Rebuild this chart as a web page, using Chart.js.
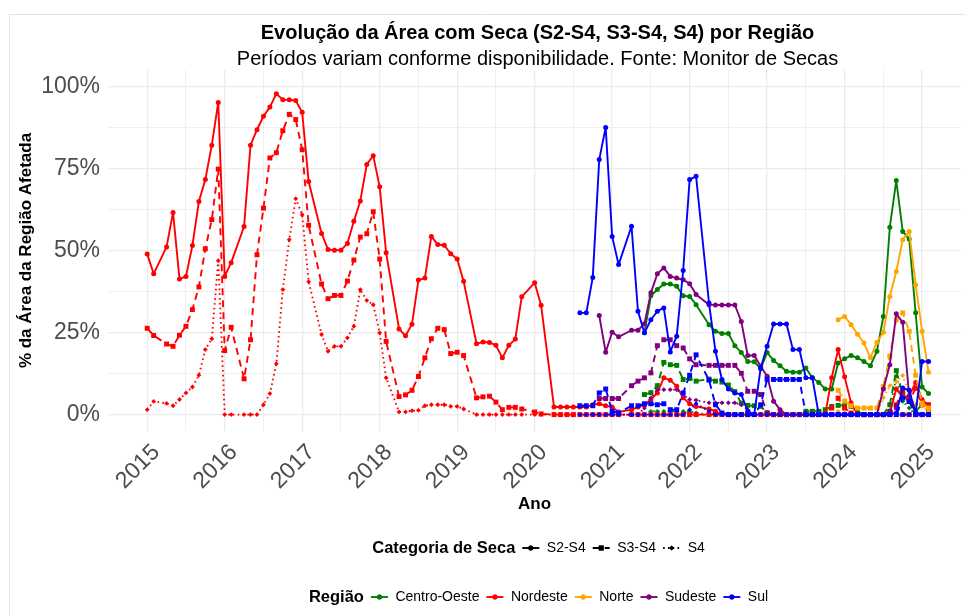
<!DOCTYPE html>
<html lang="pt-BR">
<head>
<meta charset="UTF-8">
<title>Evolução da Área com Seca por Região</title>
<script src="https://cdn.jsdelivr.net/npm/chart.js@4.4.1/dist/chart.umd.min.js"></script>
<style>
  html, body { margin: 0; padding: 0; background: #fff; }
  canvas { display: block; }
</style>
</head>
<body>
<canvas id="chart" width="965" height="615"></canvas>
<script>
// % of each region's area in drought, one value per month.
// N = month missing in the source series (March up to 2022, Dec 2019)
const N = null;

const titulo = 'Evolução da Área com Seca (S2-S4, S3-S4, S4) por Região';
const subtitulo = 'Períodos variam conforme disponibilidade. Fonte: Monitor de Secas';

const regioes = ['Centro-Oeste', 'Nordeste', 'Norte', 'Sudeste', 'Sul'];
const categorias = ['S2-S4', 'S3-S4', 'S4'];
const anos = [2015, 2016, 2017, 2018, 2019, 2020, 2021, 2022, 2023, 2024, 2025];
const yTicks = [0, 25, 50, 75, 100];

// first month of each region's series
const inicioCentroOeste = '2021-06';
const inicioNordeste = '2015-01';
const inicioNorte = '2023-12';
const inicioSudeste = '2020-11';
const inicioSul = '2020-08';

const nordesteS2 = [
  48.9, 42.9, N, 51.1, 61.6, 41.3, 42.1, 51.5, 64.9, 71.6, 82.1, 95.1,
  42.1, 46.3, N, 57.3, 82.1, 86.8, 90.9, 93.7, 97.8, 95.9, 95.9, 95.7,
  92.1, 71.0, N, 55.2, 50.3, 50.1, 50.1, 52.1, 58.9, 65.1, 76.2, 78.9,
  69.4, 49.3, N, 26.1, 24.0, 27.5, 41.0, 41.6, 54.3, 51.8, 51.6, 49.0,
  47.4, 40.6, N, 21.6, 22.1, 22.0, 21.1, 17.3, 21.1, 23.0, 35.9, N,
  40.2, 33.3, N, 2.3, 2.3, 2.3, 2.3, 2.3, 2.3, 3.0, 3.3, 2.7,
  2.3, 0.8, N, 1.5, 2.3, 3.0, 4.6, 6.6, 11.2, 10.5, 8.6, 5.1,
  3.3, 2.5, N, 1.7, 1.0, 0, 0, 0, 0, 0, 0, 0,
  0, 0, 0, 0, 0, 0, 0, 0, 0, 0, 11.2, 19.8,
  11.5, 3.6, 0, 0, 0, 0, 0, 0.5, 7.8, 5.3, 5.6, 9.8,
  4.6, 2.7
];
const nordesteS3 = [
  26.3, 24.1, N, 21.5, 20.8, 24.2, 26.9, 32.0, 38.9, 50.5, 59.4, 74.8,
  19.5, 26.6, N, 10.9, 22.8, 48.7, 62.9, 78.2, 79.8, 86.5, 91.5, 89.9,
  80.7, 57.7, N, 39.8, 35.3, 36.3, 36.3, 40.7, 47.1, 54.1, 55.1, 61.8,
  47.4, 22.3, N, 5.5, 6.0, 7.4, 11.6, 17.3, 23.1, 26.3, 25.9, 18.6,
  19.0, 18.0, N, 5.1, 5.4, 5.6, 3.8, 1.5, 2.2, 2.2, 1.7, N,
  0.8, 0.2, N, 0, 0, 0, 0, 0, 0, 0, 0, 0,
  0, 0, N, 0, 0, 0, 0, 0, 0, 0, 0, 0,
  0, 0, N, 0, 0, 0, 0, 0, 0, 0, 0, 0,
  0, 0, 0, 0, 0, 0, 0, 0, 0, 0, 2.0, 5.0,
  2.0, 0.5, 0, 0, 0, 0, 0, 0, 3.0, 7.0, 4.0, 8.0,
  3.0, 3.0
];
const nordesteS4 = [
  1.5, 4.0, N, 3.4, 2.7, 4.6, 6.6, 8.4, 12.0, 19.8, 23.1, 46.9,
  0, 0, N, 0, 0, 0, 3.0, 6.4, 15.5, 38.1, 53.3, 65.8,
  60.9, 40.5, N, 24.4, 19.3, 20.8, 20.8, 23.4, 26.9, 38.1, 34.8, 33.5,
  24.9, 11.2, N, 0.8, 0.8, 1.2, 1.3, 2.7, 3.0, 3.0, 3.0, 2.5,
  2.5, 1.7, N, 0, 0, 0, 0, 0, 0, 0, 0, N,
  0, 0, N, 0, 0, 0, 0, 0, 0, 0, 0, 0,
  0, 0, N, 0, 0, 0, 0, 0, 0, 0, 0, 0,
  0, 0, N, 0, 0, 0, 0, 0, 0, 0, 0, 0,
  0, 0, 0, 0, 0, 0, 0, 0, 0, 0, 0, 0,
  0, 0, 0, 0, 0, 0, 0, 0, 0, 0, 0, 0,
  0, 0
];

const sulS2 = [
  31.0, 31.0, 41.8, 77.7, 87.5,
  54.3, 45.7, N, 57.4, 31.5, 24.9, 28.9, 31.5, 32.5, 19.1, 23.9, 43.9,
  71.6, 72.6, N, 34.0, 19.3, 10.7, 7.8, 6.6, 6.1, 1.0, 0, 14.2,
  20.8, 27.6, 27.6, 27.6, 19.8, 19.8, 11.2, 11.2, 0, 0, 0, 0,
  0, 0, 0, 0, 0, 0, 0, 0, 0.5, 8.1, 7.4, 0.5,
  16.2, 16.2
];
const sulS3 = [
  2.7, 2.7, 2.7, 6.6, 7.8,
  1.0, 0.5, N, 2.7, 2.7, 3.3, 3.3, 3.0, 3.3, 1.5, 1.5, 6.6,
  12.0, 18.2, N, 10.5, 3.0, 0.5, 0, 0, 0, 0, 0, 3.0,
  10.7, 10.7, 10.7, 10.7, 10.7, 10.7, 0, 0, 0, 0, 0, 0,
  0, 0, 0, 0, 0, 0, 0, 0, 0, 5.0, 4.0, 0,
  0, 0
];
const sulS4 = [
  0, 0, 0, 0, 0,
  0, 0, N, 0, 0, 0, 0, 0, 0, 0, 0, 0,
  1.5, 3.3, N, 1.0, 0, 0, 0, 0, 0, 0, 0, 0,
  0, 0, 0, 0, 0, 0, 0, 0, 0, 0, 0, 0,
  0, 0, 0, 0, 0, 0, 0, 0, 0, 0, 0, 0,
  0, 0
];

const sudesteS2 = [
  30.2, 19.0,
  25.1, 23.7, N, 25.7, 25.7, 27.7, 37.1, 42.9, 44.7, 42.1, 41.6, 41.1,
  39.9, 36.6, N, 33.5, 33.4, 33.4, 33.4, 33.4, 28.4, 18.0, 18.0, 14.7,
  11.7, 4.1, 1.5, 0, 0, 0, 0, 0, 0, 0, 0, 0,
  0, 0, 0, 0, 0, 0, 7.8, 15.2, 30.7, 28.1, 5.6, 0.7,
  0, 0
];
const sudesteS3 = [
  4.9, 4.9,
  4.9, 4.9, N, 8.8, 10.2, 11.2, 12.7, 21.0, 22.8, 22.8, 21.0, 20.3,
  17.0, 15.2, N, 15.0, 15.0, 15.0, 15.0, 15.0, 12.6, 7.1, 7.1, 6.1,
  0.5, 0, 0, 0, 0, 0, 0, 0, 0, 0, 0, 0,
  0, 0, 0, 0, 0, 0, 0, 1.0, 2.5, 0, 0, 0,
  0, 0
];
const sudesteS4 = [
  0, 0,
  0, 0, N, 0, 0, 2.0, 5.1, 7.6, 7.6, 7.6, 7.6, 6.0,
  4.6, 4.4, N, 3.6, 3.6, 3.6, 3.6, 3.6, 3.0, 1.5, 0, 0,
  0, 0, 0, 0, 0, 0, 0, 0, 0, 0, 0, 0,
  0, 0, 0, 0, 0, 0, 0, 0, 2.0, 0, 0, 0,
  0, 0
];

const centroOesteS2 = [
  24.9, 36.2, 38.1, 39.8, 39.8, 39.1, 36.2,
  36.0, 33.5, N, 27.4, 25.4, 24.7, 24.7, 21.0, 18.9, 16.2, 16.1, 14.0,
  18.9, 16.5, 14.9, 13.2, 12.9, 12.9, 14.2, 11.2, 9.8, 7.8, 7.8, 15.7,
  17.0, 18.0, 17.3, 16.2, 14.9, 19.3, 29.9, 57.1, 71.3, 55.8, 53.5, 31.0,
  8.4, 6.4
];
const centroOesteS3 = [
  6.1, 6.7, 8.8, 15.9, 15.2, 15.0, 10.7,
  11.0, 10.2, N, 10.8, 10.2, 9.9, 9.0, 7.0, 3.5, 2.8, 2.7, 2.5,
  0.5, 0, 0, 0, 0, 0, 1.0, 1.0, 1.0, 1.5, 2.5, 2.8,
  2.8, 2.5, 1.0, 0, 0, 0, 0, 3.0, 13.4, 6.0, 4.0, 1.0,
  3.0, 1.0
];
const centroOesteS4 = [
  0, 1.0, 1.0, 1.0, 1.0, 1.0, 1.0,
  1.0, 0.5, N, 0, 0, 0, 0, 0, 0, 0, 0, 0,
  0, 0, 0, 0, 0, 0, 0, 0, 0, 0, 0, 0,
  0, 0, 0, 0, 0, 0, 0, 1.0, 11.7, 4.0, 2.0, 0,
  0, 0
];

const norteS2 = [28.9, 29.9, 27.4, 24.5, 21.8, 17.3, 22.0, 25.1, 36.0, 43.6, 53.3, 55.8, 39.6, 25.4, 12.9];
const norteS3 = [7.4, 4.1, 2.7, 2.0, 2.0, 2.0, 2.0, 8.6, 17.8, 28.9, 31.0, 25.4, 12.0, 3.5, 2.0];
const norteS4 = [1.0, 0.5, 0, 0, 0, 0, 0, 5.1, 8.8, 10.0, 11.9, 6.0, 3.0, 2.5, 1.0];

// --- styling ---
const FONT = '"Liberation Sans", Arial, Helvetica, sans-serif';
const corRegiao = { 'Centro-Oeste': 'green', 'Nordeste': 'red', 'Norte': 'orange', 'Sudeste': 'purple', 'Sul': 'blue' };
const estiloCategoria = {
  'S2-S4': { dash: [], point: 'circle', r: 2.5 },
  'S3-S4': { dash: [7, 5], point: 'rect', r: 3.5 },
  'S4':    { dash: [1.6, 3.2], point: 'rectRot', r: 2.4 }
};

const serieRegiao = {
  'Centro-Oeste': [inicioCentroOeste, [centroOesteS2, centroOesteS3, centroOesteS4]],
  'Nordeste': [inicioNordeste, [nordesteS2, nordesteS3, nordesteS4]],
  'Norte': [inicioNorte, [norteS2, norteS3, norteS4]],
  'Sudeste': [inicioSudeste, [sudesteS2, sudesteS3, sudesteS4]],
  'Sul': [inicioSul, [sulS2, sulS3, sulS4]]
};

// month string + offset -> decimal year for the linear x scale
function pontos(inicio, valores) {
  const [a, m] = inicio.split('-').map(Number);
  return valores.map((v, i) => ({ x: a + (m - 1 + i) / 12, y: v }));
}

const datasets = [];
// first dataset is painted last in Chart.js, so put Sul first to sit on top like in ggplot
regioes.slice().reverse().forEach(reg => {
  const [inicio, listas] = serieRegiao[reg];
  categorias.forEach((cat, k) => {
    const est = estiloCategoria[cat];
    datasets.push({
      label: reg + ' ' + cat,
      data: pontos(inicio, listas[k]),
      borderColor: corRegiao[reg],
      backgroundColor: corRegiao[reg],
      borderWidth: 1.9,
      borderDash: est.dash,
      borderJoinStyle: 'round',
      pointStyle: est.point,
      pointRadius: est.r,
      pointBorderWidth: 0,
      pointBackgroundColor: corRegiao[reg],
      spanGaps: true,
      tension: 0,
      fill: false
    });
  });
});

const xTicks = [];
for (let v = anos[0]; v <= anos[anos.length - 1]; v += 0.5) xTicks.push(v);
const yGrid = [0, 12.5, 25, 37.5, 50, 62.5, 75, 87.5, 100];

function desenhaChave(c, x, y, cor, cat) {
  const est = estiloCategoria[cat];
  c.save();
  c.strokeStyle = cor; c.fillStyle = cor; c.lineWidth = 1.9;
  c.setLineDash(est.dash);
  c.beginPath(); c.moveTo(x - 8.5, y); c.lineTo(x + 8.5, y); c.stroke();
  c.setLineDash([]);
  Chart.helpers.drawPoint(c, { pointStyle: est.point, radius: est.r, rotation: 0, borderWidth: 0 }, x, y);
  c.fill();
  c.restore();
}

function linhaLegenda(c, cx, y, tituloLeg, itens) {
  c.font = 'bold 16.5px ' + FONT;
  const wTit = c.measureText(tituloLeg).width;
  c.font = '14px ' + FONT;
  let total = wTit;
  itens.forEach(it => { total += 7 + 17 + 7.5 + c.measureText(it.label).width; });
  let x = cx - total / 2;
  c.textBaseline = 'middle'; c.textAlign = 'left'; c.fillStyle = '#000';
  c.font = 'bold 16.5px ' + FONT;
  c.fillText(tituloLeg, x, y);
  x += wTit;
  c.font = '14px ' + FONT;
  itens.forEach(it => {
    x += 7;
    desenhaChave(c, x + 8.5, y, it.cor, it.cat);
    x += 17 + 7.5;
    c.fillStyle = '#000';
    c.fillText(it.label, x, y);
    x += c.measureText(it.label).width;
  });
}

const decor = {
  id: 'decor',
  beforeDraw(chart) {
    const c = chart.ctx;
    c.save();
    c.fillStyle = '#fff';
    c.fillRect(0, 0, chart.width, chart.height);
    c.strokeStyle = '#e4e4e4'; c.lineWidth = 1;
    c.beginPath(); c.moveTo(9.5, chart.height); c.lineTo(9.5, 14.5); c.lineTo(chart.width, 14.5); c.stroke();
    c.restore();
  },
  afterDraw(chart) {
    const c = chart.ctx, a = chart.chartArea;
    const cx = (a.left + a.right) / 2;
    c.save();
    c.textAlign = 'center'; c.textBaseline = 'middle'; c.fillStyle = '#000';
    c.font = 'bold 20px ' + FONT;
    c.fillText(titulo, cx + 3, 33);
    c.font = '20px ' + FONT;
    c.fillText(subtitulo, cx + 3, 59);
    linhaLegenda(c, cx + 4, 548, 'Categoria de Seca',
      categorias.map(cat => ({ label: cat, cat: cat, cor: '#000' })));
    linhaLegenda(c, cx + 4, 597, 'Região',
      regioes.map(reg => ({ label: reg, cat: 'S2-S4', cor: corRegiao[reg] })));
    c.restore();
  }
};

Chart.defaults.font.family = FONT;

new Chart(document.getElementById('chart'), {
  type: 'line',
  data: { datasets },
  options: {
    responsive: false,
    animation: false,
    devicePixelRatio: 1,
    layout: { padding: { top: 70, right: 2, left: 0, bottom: 0 } },
    plugins: { legend: { display: false }, tooltip: { enabled: false } },
    scales: {
      x: {
        type: 'linear',
        min: 2014.494,
        max: 2025.502,
        afterBuildTicks: s => { s.ticks = xTicks.map(v => ({ value: v })); },
        afterFit: s => { s.height = 184; },
        border: { display: false },
        grid: {
          drawTicks: false,
          color: '#ebebeb',
          lineWidth: ctx => (ctx.tick && Number.isInteger(ctx.tick.value)) ? 1.3 : 0.8
        },
        ticks: {
          autoSkip: false,
          minRotation: 45,
          maxRotation: 45,
          padding: 8,
          labelOffset: 9,
          color: '#4d4d4d',
          font: { size: 23 },
          callback: v => Number.isInteger(v) ? String(v) : ''
        },
        title: {
          display: true,
          text: 'Ano',
          color: '#000',
          font: { size: 17, weight: 'bold' },
          padding: { top: 0, bottom: 100 }
        }
      },
      y: {
        min: -5,
        max: 105,
        afterBuildTicks: s => { s.ticks = yGrid.map(v => ({ value: v })); },
        afterFit: s => { s.width = 108; },
        border: { display: false },
        grid: {
          drawTicks: false,
          color: '#ebebeb',
          lineWidth: ctx => (ctx.tick && yTicks.includes(ctx.tick.value)) ? 1.3 : 0.8
        },
        ticks: {
          padding: 8,
          color: '#4d4d4d',
          font: { size: 23 },
          callback: v => yTicks.includes(v) ? v + '%' : ''
        },
        title: {
          display: true,
          text: '% da Área da Região Afetada',
          color: '#000',
          font: { size: 17, weight: 'bold' },
          padding: { top: 16, bottom: 0 }
        }
      }
    }
  },
  plugins: [decor]
});
</script>
</body>
</html>
